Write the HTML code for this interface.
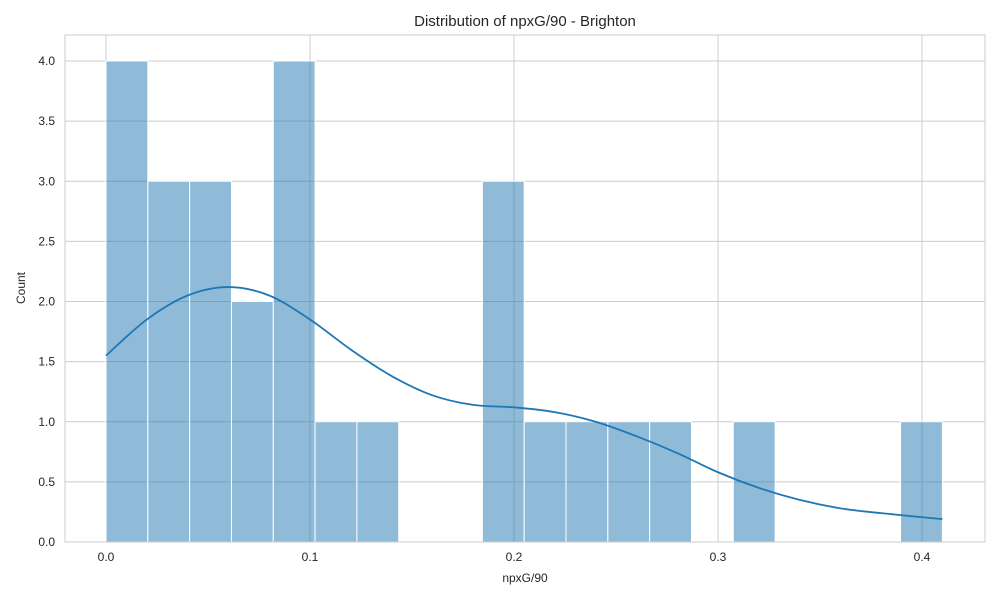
<!DOCTYPE html>
<html><head><meta charset="utf-8">
<style>
html,body{margin:0;padding:0;background:#fff;}
svg{display:block;font-family:"Liberation Sans",sans-serif;}
</style></head>
<body>
<svg id="chart" width="1000" height="600" viewBox="0 0 1000 600">
<rect x="0" y="0" width="1000" height="600" fill="#fff"/>
<text x="525" y="26" text-anchor="middle" font-size="15" fill="#262626">Distribution of npxG/90 - Brighton</text>
<text x="525" y="582" text-anchor="middle" font-size="12" fill="#262626">npxG/90</text>
<text transform="translate(25,288) rotate(-90)" text-anchor="middle" font-size="12" fill="#262626">Count</text>
<g id="grid"></g><g id="bars"></g><g id="kde"></g><g id="ticks"></g>
<rect x="65" y="35" width="920" height="507" fill="none" stroke="#ccc" stroke-width="1"/>
</svg>
<script>
const binCounts=[4,3,3,2,4,1,1,0,0,3,1,1,1,1,0,1,0,0,0,1];
const binStart=0, binWidth=0.0205;
const xTicks=[0,0.1,0.2,0.3,0.4];
const xTickLabels=["0.0","0.1","0.2","0.3","0.4"];
const yTicks=[0,0.5,1,1.5,2,2.5,3,3.5,4];
const yTickLabels=["0.0","0.5","1.0","1.5","2.0","2.5","3.0","3.5","4.0"];
const kdeX=[0,0.02,0.04,0.06,0.08,0.1,0.12,0.14,0.16,0.18,0.2,0.22,0.24,0.26,0.28,0.3,0.32,0.34,0.36,0.38,0.41];
const kdeY=[1.55,1.85,2.05,2.12,2.05,1.85,1.6,1.38,1.22,1.14,1.12,1.08,1.0,0.88,0.74,0.58,0.45,0.35,0.28,0.24,0.19];
const NS="http://www.w3.org/2000/svg";
const xs=v=>106+v*2040;
const ys=v=>542-v*120.25;
function mk(tag,attrs,parent){const e=document.createElementNS(NS,tag);for(const k in attrs)e.setAttribute(k,attrs[k]);document.getElementById(parent).appendChild(e);return e;}
xTicks.forEach((t,i)=>{
  const l=mk('line',{x1:xs(t),x2:xs(t),y1:35,y2:542,stroke:'#ccc'},'grid');
  
  
  const tx=mk('text',{x:xs(t),y:561,'text-anchor':'middle','font-size':12,fill:'#262626'},'ticks');
  tx.textContent=xTickLabels[i];
  
  
});
yTicks.forEach((t,i)=>{
  const l=mk('line',{x1:65,x2:985,y1:ys(t),y2:ys(t),stroke:'#ccc'},'grid');
  
  
  const tx=mk('text',{x:55,y:ys(t)+4,'text-anchor':'end','font-size':12,fill:'#262626'},'ticks');
  tx.textContent=yTickLabels[i];
  
  
});
binCounts.forEach((c,i)=>{
  if(c<=0)return;
  const x0=xs(binStart+i*binWidth),x1=xs(binStart+(i+1)*binWidth);
  const r=mk('rect',{x:x0,y:ys(c),width:x1-x0,height:ys(0)-ys(c),fill:'rgba(31,119,180,0.5)',stroke:'#fff','stroke-width':1},'bars');
  
  
});
const P=kdeX.map((v,i)=>[xs(v),ys(kdeY[i])]);
let d='M'+P[0][0]+','+P[0][1];
for(let i=0;i<P.length-1;i++){
  const p0=P[i-1]||P[i],p1=P[i],p2=P[i+1],p3=P[i+2]||P[i+1];
  const c1=[p1[0]+(p2[0]-p0[0])/6,p1[1]+(p2[1]-p0[1])/6];
  const c2=[p2[0]-(p3[0]-p1[0])/6,p2[1]-(p3[1]-p1[1])/6];
  d+=` C${c1[0]},${c1[1]} ${c2[0]},${c2[1]} ${p2[0]},${p2[1]}`;
}
const k=mk('path',{d:d,fill:'none',stroke:'#1f77b4','stroke-width':1.8},'kde');


</script>
</body></html>
